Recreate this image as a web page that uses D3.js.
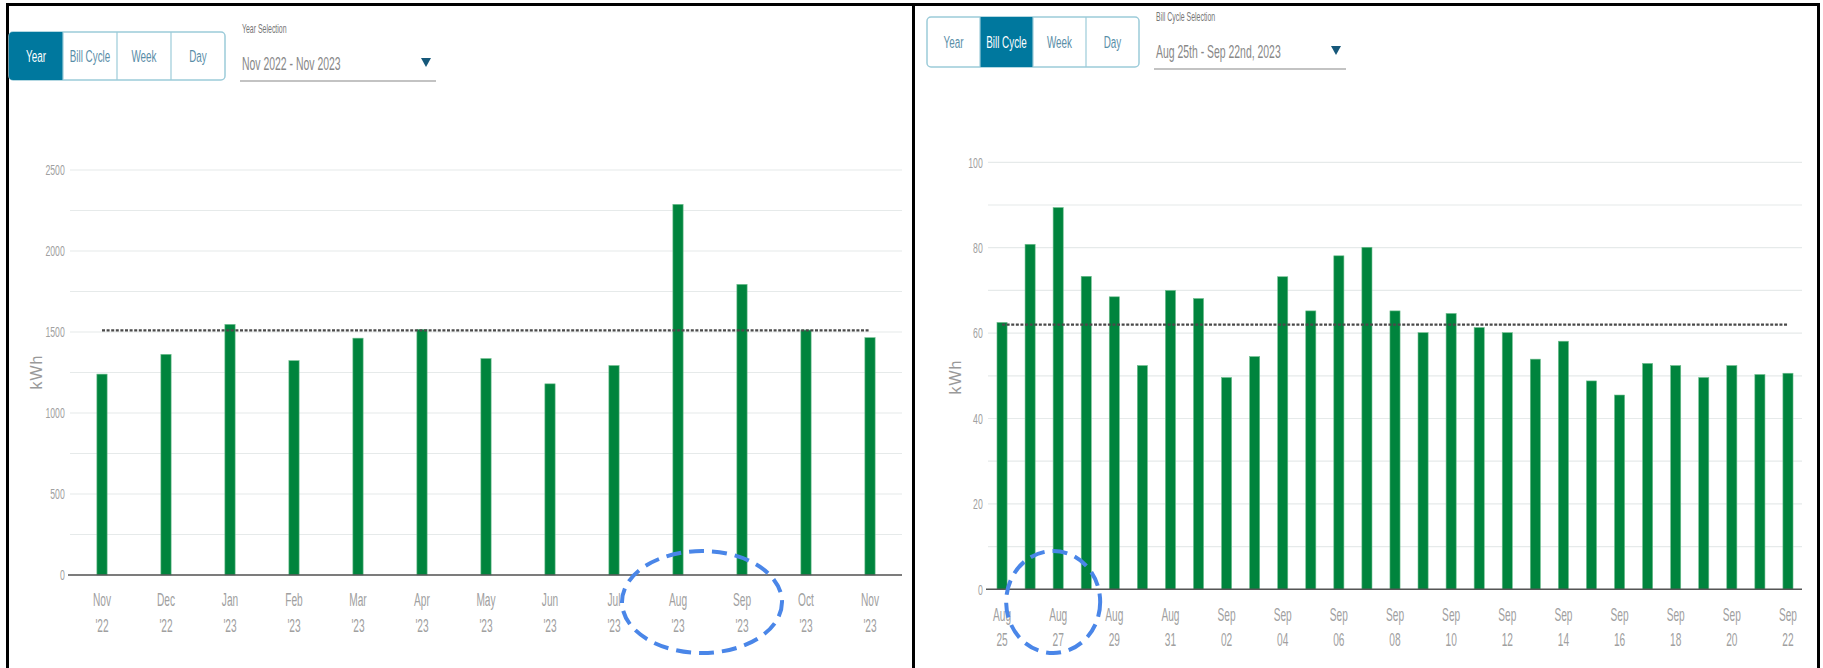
<!DOCTYPE html>
<html lang="en">
<head>
<meta charset="UTF-8">
<title>Energy usage</title>
<style>
  body { margin: 0; background: #fff; }
  svg text { font-family: "Liberation Sans", "Roboto", sans-serif; }
  .grid line { stroke: #e6eaea; stroke-width: 1.2; }
  .tick-label { fill: #a0a0a0; font-size: 15px; }
  .xlab { fill: #a0a0a0; font-size: 17.5px; }
  .bar { fill: #00843d; stroke: #6fbf8f; stroke-width: 0.6; }
  .avg { stroke: #4a4a4a; stroke-width: 2.2; stroke-dasharray: 3 1.6; }
  .base { stroke: #555; stroke-width: 1.6; }
  .mark { fill: none; stroke: #4a86e8; stroke-width: 4; stroke-dasharray: 15 8; }
</style>
</head>
<body>
<svg width="1823" height="668"></svg>
<script src="https://cdn.jsdelivr.net/npm/d3@7/dist/d3.min.js"></script>
<script>
// --- yearly view ---
var yearMonths = ["Nov", "Dec", "Jan", "Feb", "Mar", "Apr", "May", "Jun", "Jul", "Aug", "Sep", "Oct", "Nov"];
var yearYears = ["'22", "'22", "'23", "'23", "'23", "'23", "'23", "'23", "'23", "'23", "'23", "'23", "'23"];
var yearValues = [1240, 1362, 1547, 1323, 1462, 1516, 1336, 1180, 1293, 2288, 1794, 1512, 1465];
var yearAverage = 1510;
var yearTicks = [0, 500, 1000, 1500, 2000, 2500];

// --- bill cycle view ---
var cycleMonths = ["Aug", "Aug", "Aug", "Aug", "Aug", "Aug", "Aug",
    "Sep", "Sep", "Sep", "Sep", "Sep", "Sep", "Sep", "Sep", "Sep", "Sep", "Sep",
    "Sep", "Sep", "Sep", "Sep", "Sep", "Sep", "Sep", "Sep", "Sep", "Sep", "Sep"];
var cycleDays = ["25", "26", "27", "28", "29", "30", "31",
    "01", "02", "03", "04", "05", "06", "07", "08", "09", "10", "11",
    "12", "13", "14", "15", "16", "17", "18", "19", "20", "21", "22"];
var cycleValues = [62.5, 80.8, 89.4, 73.3, 68.5, 52.4, 70.0,
    68.1, 49.6, 54.5, 73.2, 65.2, 78.1, 80.1, 65.2, 60.1, 64.6, 61.3,
    60.1, 53.9, 58.1, 48.8, 45.5, 52.9, 52.4, 49.6, 52.4, 50.3, 50.6];
var cycleAverage = 62;
var cycleTicks = [0, 20, 40, 60, 80, 100];

var NARROW = "scale(0.58,1)";
var svg = d3.select("svg");

// panel frames
svg.append("line").attr("x1", 7.5).attr("x2", 7.5).attr("y1", 3).attr("y2", 668)
    .attr("stroke", "#000").attr("stroke-width", 3);
svg.append("line").attr("x1", 913.5).attr("x2", 913.5).attr("y1", 3).attr("y2", 668)
    .attr("stroke", "#000").attr("stroke-width", 3);
svg.append("line").attr("x1", 1818.5).attr("x2", 1818.5).attr("y1", 3).attr("y2", 668)
    .attr("stroke", "#000").attr("stroke-width", 3);
svg.append("line").attr("x1", 6).attr("x2", 1820).attr("y1", 4.5).attr("y2", 4.5)
    .attr("stroke", "#000").attr("stroke-width", 3);

// condensed text placed at x,y
function narrowText(parent, x, y, str, size, color, anchor) {
    return parent.append("text")
        .attr("transform", "translate(" + x + "," + y + ") " + NARROW)
        .attr("text-anchor", anchor || "start")
        .attr("font-size", size).attr("fill", color).text(str);
}

function drawToggle(x, y, w, h, active) {
    var names = ["Year", "Bill Cycle", "Week", "Day"];
    var seg = w / names.length;
    var g = svg.append("g").attr("transform", "translate(" + x + "," + y + ")");
    g.append("rect").attr("width", w).attr("height", h).attr("rx", 4)
        .attr("fill", "#fff").attr("stroke", "#9ccbd9").attr("stroke-width", 1.5);
    names.forEach(function(n, i) {
        if (i === active) {
            g.append("rect").attr("x", i * seg).attr("width", seg).attr("height", h)
                .attr("rx", i === 0 ? 4 : 0).attr("fill", "#00789e");
            if (i === 0) {
                g.append("rect").attr("x", seg / 2).attr("width", seg / 2).attr("height", h).attr("fill", "#00789e");
            }
        }
        if (i > 0) {
            g.append("line").attr("x1", i * seg).attr("x2", i * seg).attr("y1", 0).attr("y2", h)
                .attr("stroke", "#9ccbd9").attr("stroke-width", 1.2);
        }
        narrowText(g, i * seg + seg / 2, h / 2 + 6, n, 17, i === active ? "#fff" : "#5a8ea8", "middle");
    });
}

function drawSelect(x, y, w, label, value) {
    var g = svg.append("g").attr("transform", "translate(" + x + "," + y + ")");
    narrowText(g, 2, 1, label, 12, "#777");
    narrowText(g, 2, 38, value, 18, "#888");
    g.append("path").attr("d", "M" + (w - 15) + ",26 h10 l-5,9 z").attr("fill", "#16587a");
    g.append("line").attr("x1", 0).attr("x2", w).attr("y1", 49).attr("y2", 49)
        .attr("stroke", "#888").attr("stroke-width", 1.2);
}

drawToggle(9, 32, 216, 48, 0);
drawSelect(240, 32, 196, "Year Selection", "Nov 2022 - Nov 2023");
drawToggle(927, 17, 212, 50, 1);
drawSelect(1154, 20, 192, "Bill Cycle Selection", "Aug 25th - Sep 22nd, 2023");

function drawChart(opt) {
    var n = opt.values.length;
    var idx = d3.range(n);
    var x = d3.scaleBand().domain(idx).range([opt.x0, opt.x1])
        .paddingInner(opt.pad).paddingOuter(opt.pad / 2);
    var y = d3.scaleLinear().domain([0, opt.max]).range([opt.y0, opt.yTop]);
    var g = svg.append("g");

    // gridlines (minor + major)
    g.append("g").attr("class", "grid")
        .selectAll("line").data(d3.range(0, opt.max + opt.minor / 2, opt.minor))
        .enter().append("line")
        .attr("x1", opt.x0).attr("x2", opt.x1)
        .attr("y1", function(d) { return y(d); }).attr("y2", function(d) { return y(d); });

    // y axis labels
    var ya = g.append("g").attr("transform", "translate(" + opt.x0 + ",0)")
        .call(d3.axisLeft(y).tickValues(opt.ticks).tickFormat(d3.format("d")).tickSize(0).tickPadding(9));
    ya.attr("font-family", null).attr("font-size", null);
    ya.select(".domain").remove();
    ya.selectAll("text").attr("class", "tick-label").attr("transform", NARROW);

    g.append("text").attr("transform", "translate(" + opt.kx + "," + opt.ky + ") rotate(-90)")
        .attr("text-anchor", "middle").attr("fill", "#999").attr("font-size", 16)
        .attr("letter-spacing", 1).text("kWh");

    // bars
    g.selectAll(".bar").data(opt.values).enter().append("rect")
        .attr("class", "bar")
        .attr("x", function(d, i) { return x(i); })
        .attr("y", function(d) { return y(d); })
        .attr("width", x.bandwidth())
        .attr("height", function(d) { return opt.y0 - y(d); });

    // baseline
    g.append("line").attr("class", "base")
        .attr("x1", opt.x0 - 2).attr("x2", opt.x1).attr("y1", opt.y0).attr("y2", opt.y0);

    // average line
    g.append("line").attr("class", "avg")
        .attr("x1", x(0) + x.bandwidth() / 2).attr("x2", x(n - 1) + x.bandwidth() / 2)
        .attr("y1", y(opt.avg)).attr("y2", y(opt.avg));

    // x labels (two lines)
    var xa = g.append("g").attr("transform", "translate(0," + opt.y0 + ")")
        .call(d3.axisBottom(x).tickSize(0).tickFormat(""));
    xa.attr("font-family", null).attr("font-size", null);
    xa.select(".domain").remove();
    xa.selectAll(".tick").each(function(i) {
        if (i % opt.every !== 0) return;
        var t = d3.select(this).append("text").attr("class", "xlab")
            .attr("text-anchor", "middle").attr("transform", NARROW);
        t.append("tspan").attr("x", 0).attr("y", opt.l1).text(opt.top[i]);
        t.append("tspan").attr("x", 0).attr("y", opt.l2).text(opt.bottom[i]);
    });
    return x;
}

var xYear = drawChart({
    values: yearValues, top: yearMonths, bottom: yearYears, avg: yearAverage,
    ticks: yearTicks, max: 2500, minor: 250, every: 1,
    x0: 70, x1: 902, y0: 575, yTop: 170, pad: 0.84,
    kx: 42, ky: 372, l1: 31, l2: 57
});

var xCycle = drawChart({
    values: cycleValues, top: cycleMonths, bottom: cycleDays, avg: cycleAverage,
    ticks: cycleTicks, max: 100, minor: 10, every: 2,
    x0: 988, x1: 1802, y0: 589.3, yTop: 162.3, pad: 0.64,
    kx: 961, ky: 377, l1: 32, l2: 57
});

// highlight annotations
var bwY = xYear.bandwidth() / 2;
svg.append("ellipse").attr("class", "mark")
    .attr("cx", (xYear(9) + xYear(10)) / 2 + bwY - 8).attr("cy", 602)
    .attr("rx", 80).attr("ry", 51);
svg.append("ellipse").attr("class", "mark")
    .attr("cx", xCycle(2) + xCycle.bandwidth() / 2 - 5).attr("cy", 602)
    .attr("rx", 47).attr("ry", 51);
</script>
</body>
</html>
